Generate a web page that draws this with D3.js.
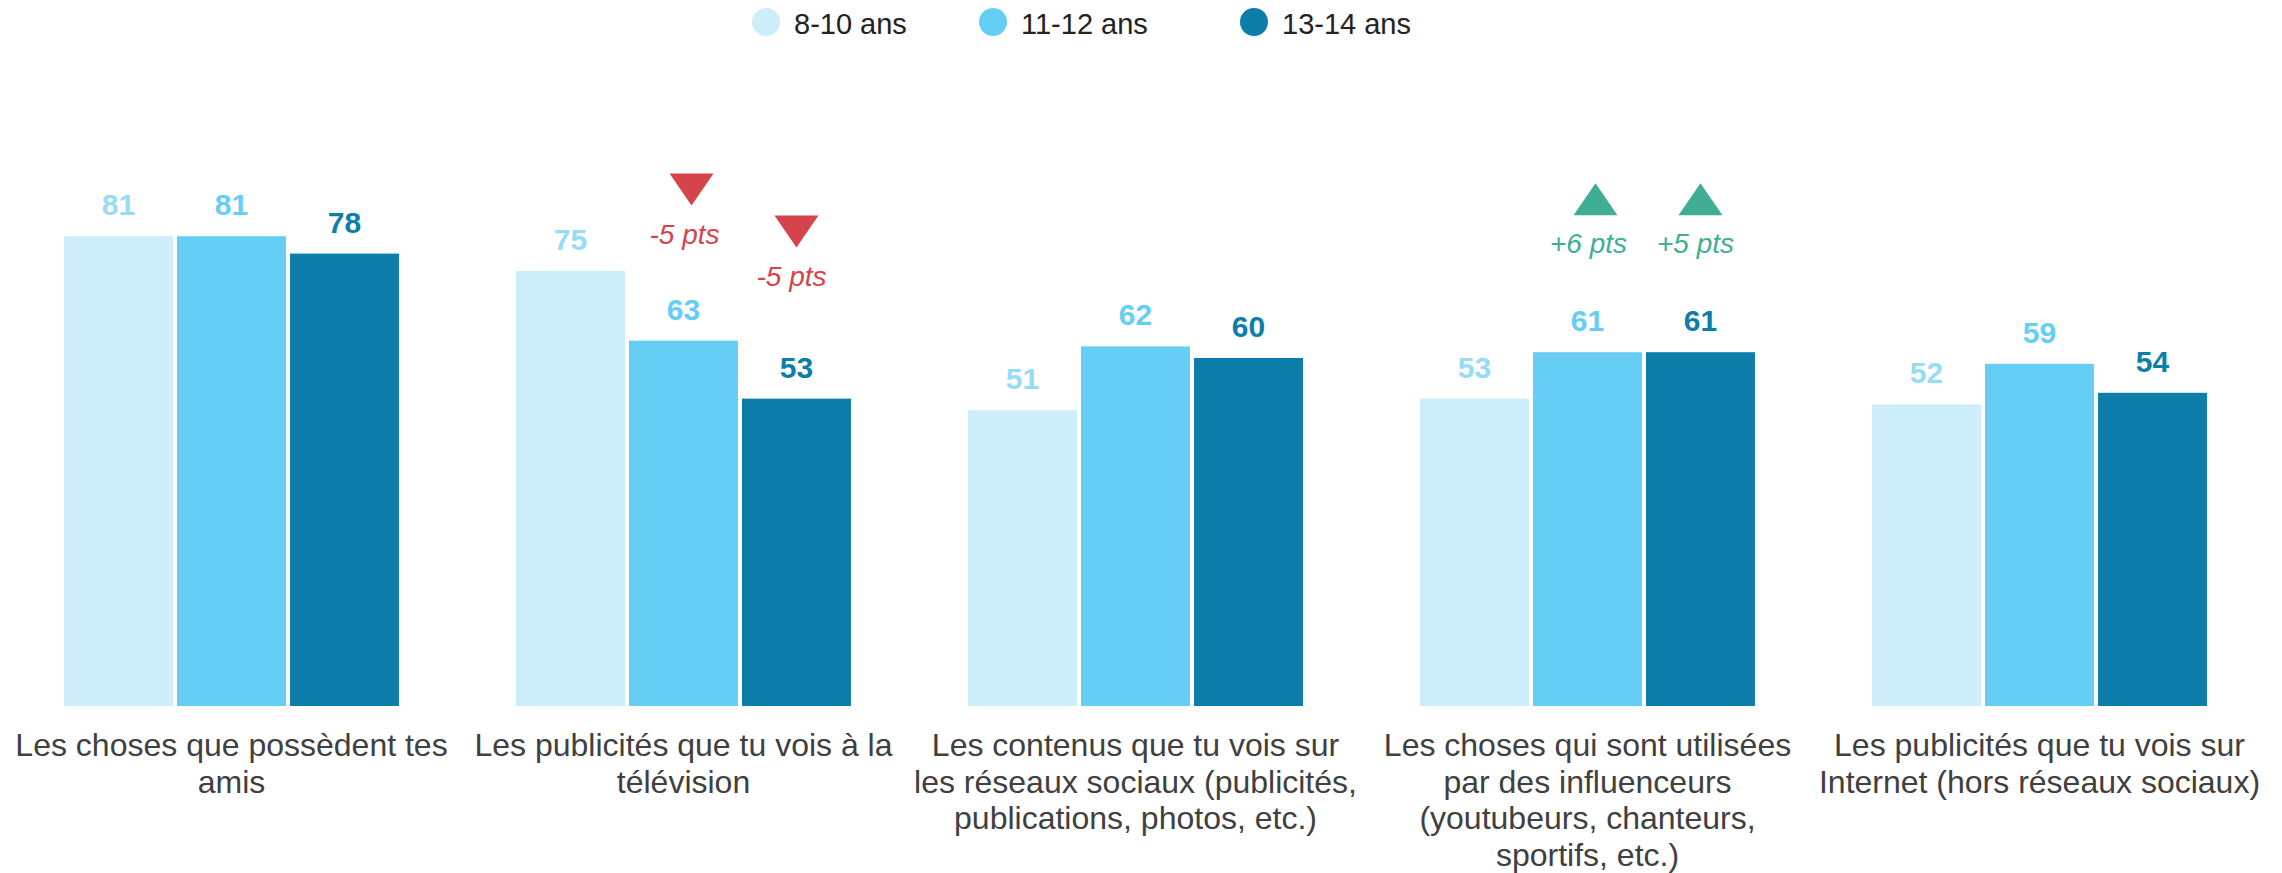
<!DOCTYPE html>
<html>
<head>
<meta charset="utf-8">
<script src="https://cdn.jsdelivr.net/npm/d3@7"></script>
<style>
  html, body { margin: 0; padding: 0; background: #fff; }
  svg { display: block; font-family: "Liberation Sans", Arial, sans-serif; }
</style>
</head>
<body>
<svg id="chart" width="2282" height="873"></svg>
<script>
// Age groups (series)
const seriesNames = ["8-10 ans", "11-12 ans", "13-14 ans"];
const seriesColors = ["#CCEEFA", "#66CEF5", "#0D7EAA"];
const labelColors = ["#96DCF6", "#66CEF5", "#0D7EAA"];

// Categories, one array of text lines per category
const categories = [
  ["Les choses que possèdent tes", "amis"],
  ["Les publicités que tu vois à la", "télévision"],
  ["Les contenus que tu vois sur", "les réseaux sociaux (publicités,", "publications, photos, etc.)"],
  ["Les choses qui sont utilisées", "par des influenceurs", "(youtubeurs, chanteurs,", "sportifs, etc.)"],
  ["Les publicités que tu vois sur", "Internet (hors réseaux sociaux)"]
];

// Percentages per series, one value per category
const values8to10 = [81, 75, 51, 53, 52];
const values11to12 = [81, 63, 62, 61, 59];
const values13to14 = [78, 53, 60, 61, 54];
const seriesValues = [values8to10, values11to12, values13to14];

// Significant changes: category index, series index, direction, text
const changeCategory = [1, 1, 3, 3];
const changeSeries = [1, 2, 1, 2];
const changeDirection = ["down", "down", "up", "up"];
const changeText = ["-5 pts", "-5 pts", "+6 pts", "+5 pts"];

const svg = d3.select("#chart");

const x0 = d3.scaleBand()
  .domain(d3.range(categories.length))
  .range([5.5, 2265.5])
  .paddingInner(0.259)
  .paddingOuter(0.1295);

const x1 = d3.scaleBand()
  .domain(d3.range(seriesNames.length))
  .range([0, x0.bandwidth()])
  .paddingInner(0.0354)
  .paddingOuter(0);

const y = d3.scaleLinear().domain([0, 100]).range([706, 126]);

// Bars
const groups = svg.append("g").selectAll("g")
  .data(categories.map((c, i) => i))
  .join("g")
  .attr("transform", i => `translate(${x0(i)},0)`);

groups.selectAll("rect")
  .data(i => seriesValues.map((vals, s) => ({ s, v: vals[i] })))
  .join("rect")
  .attr("x", d => x1(d.s))
  .attr("y", d => y(d.v))
  .attr("width", x1.bandwidth())
  .attr("height", d => y(0) - y(d.v))
  .attr("fill", d => seriesColors[d.s]);

// Value labels
groups.selectAll("text.val")
  .data(i => seriesValues.map((vals, s) => ({ s, v: vals[i] })))
  .join("text")
  .attr("class", "val")
  .attr("x", d => x1(d.s) + x1.bandwidth() / 2)
  .attr("y", d => y(d.v) - 21)
  .attr("text-anchor", "middle")
  .attr("font-size", 30)
  .attr("font-weight", "bold")
  .attr("fill", d => labelColors[d.s])
  .text(d => d.v);

// Category labels under the bars
const catLabels = svg.append("g").selectAll("text")
  .data(categories.map((lines, i) => ({ lines, i })))
  .join("text")
  .attr("text-anchor", "middle")
  .attr("font-size", 32)
  .attr("fill", "#404040")
  .attr("transform", d => `translate(${x0(d.i) + x0.bandwidth() / 2},756)`);

catLabels.selectAll("tspan")
  .data(d => d.lines)
  .join("tspan")
  .attr("x", 0)
  .attr("y", (l, k) => k * 36.6)
  .text(l => l);

// Change markers: triangle above the bar with the delta text below it
const markerLift = [167, 183, 169, 169];
const triW = 44, triH = 32;
const markers = svg.append("g").selectAll("g")
  .data(changeCategory.map((c, k) => ({
    c, s: changeSeries[k], dir: changeDirection[k], text: changeText[k], k
  })))
  .join("g")
  .attr("transform", d => {
    const v = seriesValues[d.s][d.c];
    const cx = x0(d.c) + x1(d.s) + x1.bandwidth() / 2;
    return `translate(${cx},${y(v) - markerLift[d.k]})`;
  });

markers.append("path")
  .attr("d", d => d.dir === "down"
    ? `M${-triW / 2},0 L${triW / 2},0 L0,${triH} Z`
    : `M0,0 L${triW / 2},${triH} L${-triW / 2},${triH} Z`)
  .attr("transform", d => d.s === 1 ? "translate(8,0)" : null)
  .attr("fill", d => d.dir === "down" ? "#D5444B" : "#3FAE94");

markers.append("text")
  .attr("x", d => d.s === 2 ? -5 : 1)
  .attr("y", 70)
  .attr("text-anchor", "middle")
  .attr("font-size", 28)
  .attr("font-style", "italic")
  .attr("fill", d => d.dir === "down" ? "#D5444B" : "#3FAE94")
  .text(d => d.text);

// Legend
const legendX = [766, 993, 1254];
const legend = svg.append("g").selectAll("g")
  .data(seriesNames.map((n, i) => ({ n, i })))
  .join("g")
  .attr("transform", d => `translate(${legendX[d.i]},22)`);

legend.append("circle")
  .attr("r", 14)
  .attr("fill", d => seriesColors[d.i]);

legend.append("text")
  .attr("x", 28)
  .attr("y", 11.5)
  .attr("font-size", 29)
  .attr("fill", "#222")
  .text(d => d.n);
</script>
</body>
</html>
